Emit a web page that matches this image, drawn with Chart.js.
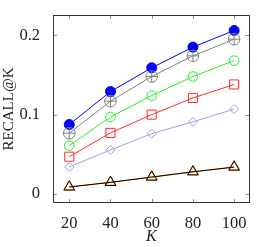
<!DOCTYPE html>
<html>
<head>
<meta charset="utf-8">
<script src="https://cdn.jsdelivr.net/npm/chart.js@4"></script>
<style>
  html, body { margin: 0; padding: 0; background: #fff; }
  #wrap { width: 257px; height: 247px; position: relative; }
</style>
</head>
<body>
<div id="wrap"><canvas id="chart"></canvas></div>
<script>
// values
const kValues = [20, 40, 60, 80, 100];
const yTicks = [0, 0.1, 0.2];
const blueVals = [0.0875, 0.129, 0.159, 0.185, 0.206];
const grayVals = [0.0766, 0.117, 0.148, 0.174, 0.195];
const greenVals = [0.061, 0.097, 0.124, 0.148, 0.168];
const redVals = [0.047, 0.077, 0.100, 0.121, 0.138];
const lavenderVals = [0.034, 0.0555, 0.076, 0.091, 0.107];
const blackVals = [0.0089, 0.0147, 0.0214, 0.028, 0.034];
const orangeVals = [0.0089, 0.0147, 0.0212, 0.0278, 0.0338];

const FONT = "'Liberation Serif', 'DejaVu Serif', serif";

function series(vals, color, style, radius, filled, showLine = true) {
    return {
        data: vals.map((v, i) => ({ x: kValues[i], y: v })),
        borderColor: color,
        backgroundColor: filled ? color : 'rgba(0,0,0,0)',
        pointBorderColor: color,
        pointBackgroundColor: filled ? color : 'rgba(0,0,0,0)',
        pointStyle: style,
        pointRadius: radius,
        pointBorderWidth: 1,
        borderWidth: 1,
        showLine: showLine,
        tension: 0
    };
}

// frame with inward tick marks on all four sides
const framePlugin = {
    id: 'frame',
    afterDraw(chart) {
        const { ctx, chartArea: a, scales } = chart;
        ctx.save();
        ctx.strokeStyle = '#8c8c8c';
        ctx.lineWidth = 1;
        const t = 4;
        kValues.forEach(k => {
            const x = Math.round(scales.x.getPixelForValue(k)) + 0.5;
            ctx.beginPath();
            ctx.moveTo(x, a.bottom); ctx.lineTo(x, a.bottom - t);
            ctx.moveTo(x, a.top); ctx.lineTo(x, a.top + t);
            ctx.stroke();
        });
        yTicks.forEach(v => {
            const y = Math.round(scales.y.getPixelForValue(v)) + 0.5;
            ctx.beginPath();
            ctx.moveTo(a.left, y); ctx.lineTo(a.left + t, y);
            ctx.moveTo(a.right, y); ctx.lineTo(a.right - t, y);
            ctx.stroke();
        });
        ctx.strokeStyle = '#333';
        ctx.strokeRect(Math.round(a.left) + 0.5, Math.round(a.top) + 0.5,
            Math.round(a.right - a.left) - 1, Math.round(a.bottom - a.top) - 1);
        ctx.restore();
    }
};

const ctx = document.getElementById('chart').getContext('2d');
new Chart(ctx, {
    type: 'scatter',
    data: {
        datasets: [
            series(blackVals, '#000000', 'triangle', 6.3, false),
            series(orangeVals, '#ff8000', 'triangle', 5.4, false),
            series(lavenderVals, '#9f9fe6', 'rectRot', 4.5, false),
            series(redVals, '#ff2a2a', 'rect', 6.4, false),
            series(greenVals, '#22ee22', 'circle', 4.8, false),
            series(grayVals, '#808080', 'circle', 5.8, false),
            series(grayVals, '#808080', 'cross', 5.8, false, false),
            series(blueVals, '#0000ff', 'circle', 5, true)
        ]
    },
    options: {
        responsive: true,
        maintainAspectRatio: false,
        animation: false,
        layout: { padding: { top: 0, right: 1, left: 0, bottom: 0 } },
        plugins: { legend: { display: false }, tooltip: { enabled: false } },
        scales: {
            x: {
                type: 'linear',
                min: 12.1,
                max: 107.5,
                afterBuildTicks: s => { s.ticks = kValues.map(v => ({ value: v })); },
                afterFit: s => { s.height = 44; },
                grid: { display: false },
                border: { display: false },
                ticks: { color: '#222', padding: 3, font: { family: FONT, size: 16.5 } },
                title: { display: true, text: 'K', color: '#222', padding: { top: 0, bottom: 1 },
                    font: { family: FONT, size: 16, style: 'italic' } }
            },
            y: {
                min: -0.0113,
                max: 0.2256,
                afterBuildTicks: s => { s.ticks = yTicks.map(v => ({ value: v })); },
                afterFit: s => { s.width = 53; },
                grid: { display: false },
                border: { display: false },
                ticks: { color: '#222', padding: 5, font: { family: FONT, size: 16.5 },
                    callback: v => String(v) },
                title: { display: true, text: 'RECALL@K', color: '#222', padding: { top: 0, bottom: 1 },
                    font: { family: FONT, size: 15 } }
            }
        }
    },
    plugins: [framePlugin]
});
</script>
</body>
</html>
